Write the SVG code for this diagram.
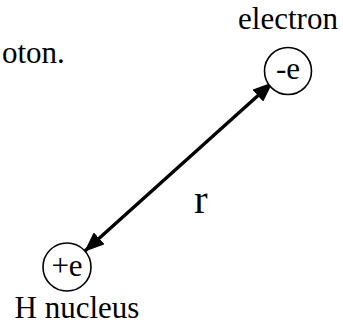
<svg xmlns="http://www.w3.org/2000/svg" width="343" height="325" viewBox="0 0 343 325">
<style>
text{font-family:"Liberation Serif","Times New Roman",serif;fill:#000}
.c{fill:#fff;stroke:#000;stroke-width:1.6}
.l{stroke:#000;stroke-width:3.4;fill:none}
</style>
<defs>
<marker id="ah" viewBox="0 0 20 16" refX="19" refY="8" markerWidth="20" markerHeight="16" orient="auto-start-reverse" markerUnits="userSpaceOnUse">
<path d="M0,0 L20,8 L0,16 z" fill="#000"/>
</marker>
</defs>
<rect width="343" height="325" fill="#fff"/>
<text x="2" y="63" font-size="31">oton.</text>
<g id="connectors">
<line class="l" x1="85" y1="251" x2="272" y2="83" marker-start="url(#ah)" marker-end="url(#ah)"/>
</g>
<g id="electron">
<text x="288" y="29" font-size="31" text-anchor="middle">electron</text>
<circle class="c" cx="288" cy="71" r="23.5"/>
<text x="288" y="79" font-size="31" text-anchor="middle">-e</text>
</g>
<g id="nucleus">
<circle class="c" cx="67" cy="267" r="24"/>
<text x="67" y="276" font-size="31" text-anchor="middle">+e</text>
<text x="77" y="318" font-size="31" text-anchor="middle">H nucleus</text>
</g>
<text x="201" y="213" font-size="40" text-anchor="middle">r</text>
</svg>
